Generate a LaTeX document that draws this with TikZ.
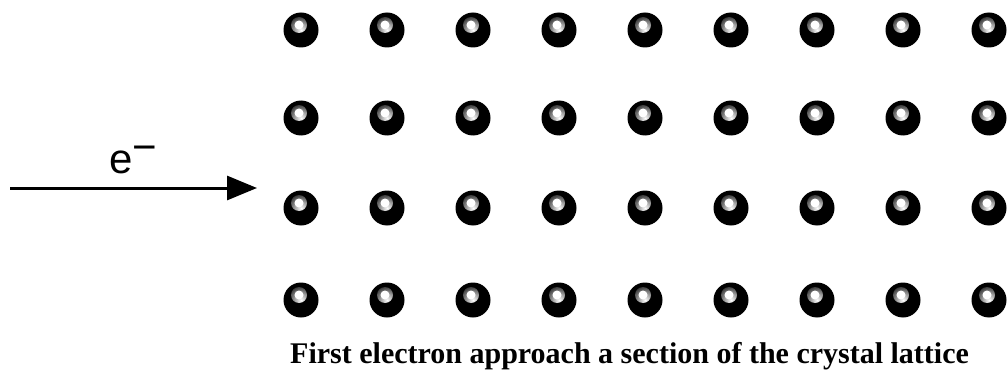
\documentclass[tikz,border=0pt]{standalone}
\usepackage{fontspec}
\setmainfont{Liberation Serif}
\newfontfamily\arialfont{Liberation Sans}
\usetikzlibrary{arrows.meta}
\tikzset{
  atom/.style={circle, fill=black, draw=none, minimum size=35pt, inner sep=0pt,
    path picture={
      \shade[inner color=white, outer color=black]
        ([shift={(-2,-5)}]path picture bounding box.center) circle[radius=8];
      \fill[white] ([shift={(-2,-5)}]path picture bounding box.center) circle[radius=4.5];
    }},
  beam/.style={line width=3pt, -{Triangle[length=30pt,width=24pt]}},
  caption/.style={anchor=base west, inner sep=0pt, font=\bfseries\fontsize{30}{33}\selectfont},
  elabel/.style={anchor=base west, inner sep=0pt, font=\arialfont\fontsize{42}{42}\selectfont}
}
\begin{document}
\begin{tikzpicture}[x=1pt, y=-1pt]
\useasboundingbox (0,0) rectangle (1008,377);
\foreach \r/\yy in {1/30, 2/118, 3/208, 4/300} {
  \foreach \c in {1,...,9} {
    \node[atom] (a-\r-\c) at ({301 + 86*(\c-1)}, \yy) {};
  }
}
\coordinate (start) at (10,188);
\coordinate (tip) at (257,188);
\draw[beam] (start) -- (tip);
\node[elabel] (e) at (109,173) {e\raisebox{12pt}{−}};
\node[caption] (cap) at (290,363) {First electron approach a section of the crystal lattice};
\end{tikzpicture}
\end{document}
